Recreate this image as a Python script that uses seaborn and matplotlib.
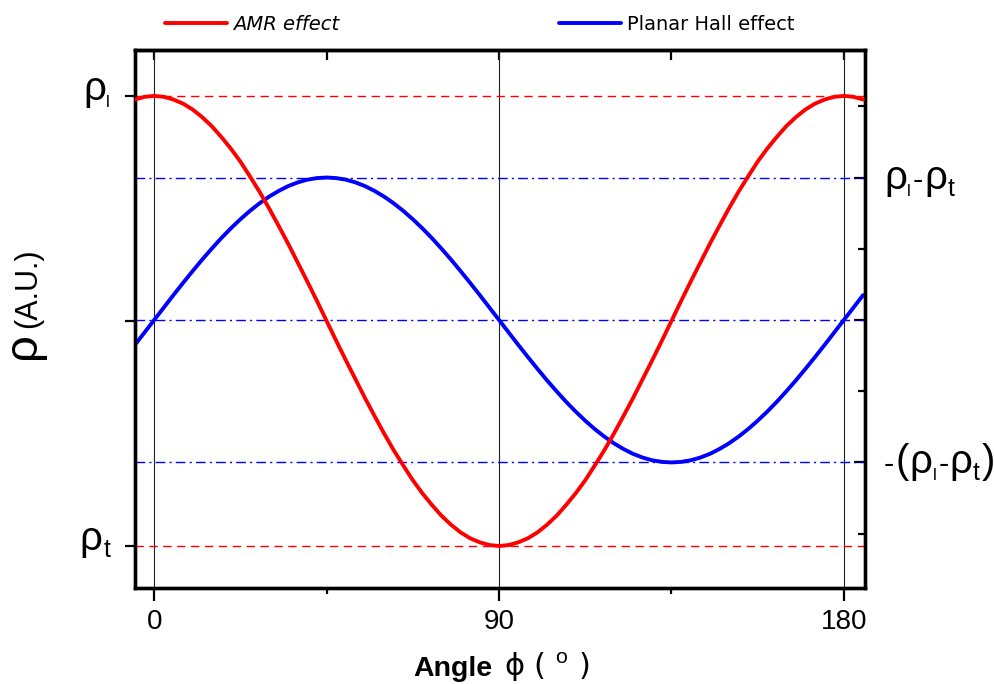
import matplotlib
matplotlib.use("Agg")
import matplotlib.pyplot as plt
import seaborn as sns
from matplotlib.ticker import FixedLocator
from matplotlib.transforms import IdentityTransform

# Field angle (degrees) and the two normalised magnetoresistance signals
angle_deg = [-5, -2.5, 0, 2.5, 5, 7.5, 10, 12.5, 15, 17.5, 20, 22.5, 25, 27.5, 30, 32.5,
             35, 37.5, 40, 42.5, 45, 47.5, 50, 52.5, 55, 57.5, 60, 62.5, 65, 67.5, 70,
             72.5, 75, 77.5, 80, 82.5, 85, 87.5, 90, 92.5, 95, 97.5, 100, 102.5, 105,
             107.5, 110, 112.5, 115, 117.5, 120, 122.5, 125, 127.5, 130, 132.5, 135,
             137.5, 140, 142.5, 145, 147.5, 150, 152.5, 155, 157.5, 160, 162.5, 165,
             167.5, 170, 172.5, 175, 177.5, 180, 182.5, 185]
# AMR: 0 -> rho_t, 1 -> rho_l
amr_signal = [0.992, 0.998, 1.000, 0.998, 0.992, 0.983, 0.970, 0.953, 0.933, 0.909, 0.883,
              0.854, 0.821, 0.787, 0.750, 0.711, 0.671, 0.629, 0.587, 0.544, 0.500, 0.456,
              0.413, 0.371, 0.329, 0.289, 0.250, 0.213, 0.179, 0.146, 0.117, 0.091, 0.067,
              0.047, 0.030, 0.017, 0.008, 0.002, 0.000, 0.002, 0.008, 0.017, 0.030, 0.047,
              0.067, 0.091, 0.117, 0.146, 0.179, 0.213, 0.250, 0.289, 0.329, 0.371, 0.413,
              0.456, 0.500, 0.544, 0.587, 0.629, 0.671, 0.711, 0.750, 0.787, 0.821, 0.854,
              0.883, 0.909, 0.933, 0.953, 0.970, 0.983, 0.992, 0.998, 1.000, 0.998, 0.992]
# Planar Hall: in units of (rho_l - rho_t)
hall_signal = [-0.174, -0.087, 0.000, 0.087, 0.174, 0.259, 0.342, 0.423, 0.500, 0.574,
               0.643, 0.707, 0.766, 0.819, 0.866, 0.906, 0.940, 0.966, 0.985, 0.996, 1.000,
               0.996, 0.985, 0.966, 0.940, 0.906, 0.866, 0.819, 0.766, 0.707, 0.643, 0.574,
               0.500, 0.423, 0.342, 0.259, 0.174, 0.087, 0.000, -0.087, -0.174, -0.259,
               -0.342, -0.423, -0.500, -0.574, -0.643, -0.707, -0.766, -0.819, -0.866,
               -0.906, -0.940, -0.966, -0.985, -0.996, -1.000, -0.996, -0.985, -0.966,
               -0.940, -0.906, -0.866, -0.819, -0.766, -0.707, -0.643, -0.574, -0.500,
               -0.423, -0.342, -0.259, -0.174, -0.087, 0.000, 0.087, 0.174]

series_names = ["AMR effect", "Planar Hall effect"]
amr_levels = [0.0, 1.0]
hall_levels = [-1.0, 0.0, 1.0]
guide_angles = [0, 90, 180]

x_major = [0, 90, 180]
x_minor = [45, 135]
x_labels = ["0", "90", "180"]
left_ticks = [0.0, 0.5, 1.0]
right_ticks = [-1.0, 0.0, 1.0]
right_minor = [-1.5, -0.5, 0.5, 1.5]
# tick labels as (text, role) runs: "b" body, "h" hyphen, "s" subscript
left_labels = [[("ρ", "b"), ("t", "s")], [], [("ρ", "b"), ("l", "s")]]
right_labels = [[("-", "h"), ("(", "b"), ("ρ", "b"), ("l", "s"), ("-", "h"),
                 ("ρ", "b"), ("t", "s"), (")", "b")],
                [],
                [("ρ", "b"), ("l", "s"), ("-", "h"), ("ρ", "b"), ("t", "s")]]

sns.set_theme(style="white")
plt.rcParams["font.family"] = ["Liberation Sans", "DejaVu Sans"]
plt.rcParams["mathtext.fontset"] = "custom"
plt.rcParams["mathtext.rm"] = "Liberation Sans"
plt.rcParams["mathtext.it"] = "Liberation Sans"
for key in ("text.color", "axes.labelcolor", "xtick.color", "ytick.color"):
    plt.rcParams[key] = "black"

RED = "#ff0000"
BLUE = "#0000ff"
CURVE_LW = 2.8

fig = plt.figure(figsize=(9.95, 6.84), dpi=100)
fig.patch.set_facecolor("white")
ax_hall = fig.add_axes([0.1357, 0.1404, 0.7336, 0.7865])
ax_amr = ax_hall.twinx()

# Hall axis (right scale): guides and curve
for a in guide_angles:
    ax_hall.axvline(a, color="#222222", lw=0.8, zorder=1)
for lv in hall_levels:
    ax_hall.axhline(lv, color=BLUE, lw=1.0, dashes=(7, 3, 1.5, 3), zorder=1)
sns.lineplot(x=angle_deg, y=hall_signal, ax=ax_hall, color=BLUE, linewidth=CURVE_LW,
             sort=False, legend=False, zorder=3)
hall_line = ax_hall.lines[-1]

# AMR axis (left scale)
for lv in amr_levels:
    ax_amr.axhline(lv, color=RED, lw=1.0, dashes=(6, 4), zorder=1)
sns.lineplot(x=angle_deg, y=amr_signal, ax=ax_amr, color=RED, linewidth=CURVE_LW,
             sort=False, legend=False, zorder=3)
amr_line = ax_amr.lines[-1]
for ln in (hall_line, amr_line):
    ln.set_linewidth(CURVE_LW)
    ln.set_solid_capstyle("round")
    ln.set_solid_joinstyle("round")

ax_hall.set_xlim(-5, 185.5)
ax_hall.set_ylim(-1.881, 1.895)
ax_amr.set_ylim(-0.0933, 1.102)

# y axes: AMR ticks on the left, Hall ticks on the right
ax_amr.yaxis.tick_left()
ax_hall.yaxis.tick_right()
ax_amr.set_yticks(left_ticks)
ax_amr.set_yticklabels([""] * len(left_ticks))
ax_amr.tick_params(axis="y", direction="out", length=7.5, width=1.6,
                   left=True, right=False)
ax_hall.set_yticks(right_ticks)
ax_hall.set_yticklabels([""] * len(right_ticks))
ax_hall.yaxis.set_minor_locator(FixedLocator(right_minor))
ax_hall.tick_params(axis="y", which="major", direction="in", length=8, width=1.6,
                    right=True, left=False)
ax_hall.tick_params(axis="y", which="minor", direction="in", length=5, width=1.6,
                    right=True, left=False)

# x axis: outward ticks at the bottom, inward at the top
ax_hall.set_xticks(x_major)
ax_hall.set_xticklabels(x_labels)
ax_hall.xaxis.set_minor_locator(FixedLocator(x_minor))
ax_hall.tick_params(axis="x", which="major", direction="out", length=9, width=1.6,
                    labelsize=20, pad=6, bottom=True, top=False)
ax_hall.tick_params(axis="x", which="minor", direction="out", length=4, width=1.6,
                    bottom=True, top=False)
top = ax_hall.secondary_xaxis("top")
top.set_xticks(x_major + x_minor)
top.tick_params(axis="x", direction="in", length=7, width=1.6, labeltop=False)
top.spines["top"].set_linewidth(2.4)

ax_hall.set_xlabel("")
ax_hall.set_ylabel("")
ax_amr.set_ylabel("")
for axis in (ax_hall, ax_amr):
    for sp in axis.spines.values():
        sp.set_linewidth(2.4)
        sp.set_color("black")
ax_hall.set_facecolor("white")

# Rich tick labels (large rho with small subscripts)
renderer = fig.canvas.get_renderer()
ROLE_SIZE = {"b": 29, "h": 22}
SUB_SIZE = {"l": 12, "t": 18}
ROLE_DROP = {"b": 0, "h": 0, "s": -7}
ROLE_GAP = {"b": 0.5, "h": 1.0, "s": 2.0}


def draw_runs(runs, x_px, base_px, align):
    items = []
    total = 0.0
    for text, role in runs:
        size = SUB_SIZE.get(text, 14) if role == "s" else ROLE_SIZE[role]
        t = fig.text(0, 0, text, fontsize=size, ha="left", va="baseline",
                     transform=IdentityTransform(), color="black")
        w = t.get_window_extent(renderer).width
        gap = ROLE_GAP[role]
        items.append((t, w, gap, ROLE_DROP[role]))
        total += w + gap
    x = x_px - total if align == "right" else x_px
    for t, w, gap, drop in items:
        t.set_position((x, base_px + drop))
        x += w + gap


for val, runs in zip(left_ticks, left_labels):
    if runs:
        y_disp = ax_amr.transData.transform((0, val))[1]
        draw_runs(runs, 112, y_disp - 4, "right")
for val, runs in zip(right_ticks, right_labels):
    if runs:
        y_disp = ax_hall.transData.transform((0, val))[1]
        draw_runs(runs, 884, y_disp - 11, "left")

# Axis titles
fig.text(492 / 995, 1 - 676 / 684, "Angle", fontsize=20.5, fontweight="bold",
         ha="right", va="baseline")
fig.text(504 / 995, 1 - 676 / 684, "\u03d5 ( $^{\\mathrm{o}}$ )", fontsize=22,
         ha="left", va="baseline", family=["DejaVu Sans"])
fig.text(23 / 995, 1 - 346 / 684, "\u03c1", fontsize=34, rotation=90,
         ha="center", va="center")
fig.text(28 / 995, 1 - 288 / 684, "(A.U.)", fontsize=22, rotation=90,
         ha="center", va="center")

# Legend above the frame
fig.legend(handles=[amr_line, hall_line], labels=series_names, ncol=2,
           loc="center left", bbox_to_anchor=(165 / 995, 1 - 24 / 684),
           frameon=False, handlelength=3.2, handletextpad=0.3,
           columnspacing=11.3, borderpad=0, borderaxespad=0,
           prop={"family": "DejaVu Sans", "size": 14})
leg = fig.legends[-1]
leg.get_texts()[0].set_style("italic")
for h in leg.legend_handles:
    h.set_linewidth(CURVE_LW)

fig.savefig("out.png", dpi=100, facecolor="white")
